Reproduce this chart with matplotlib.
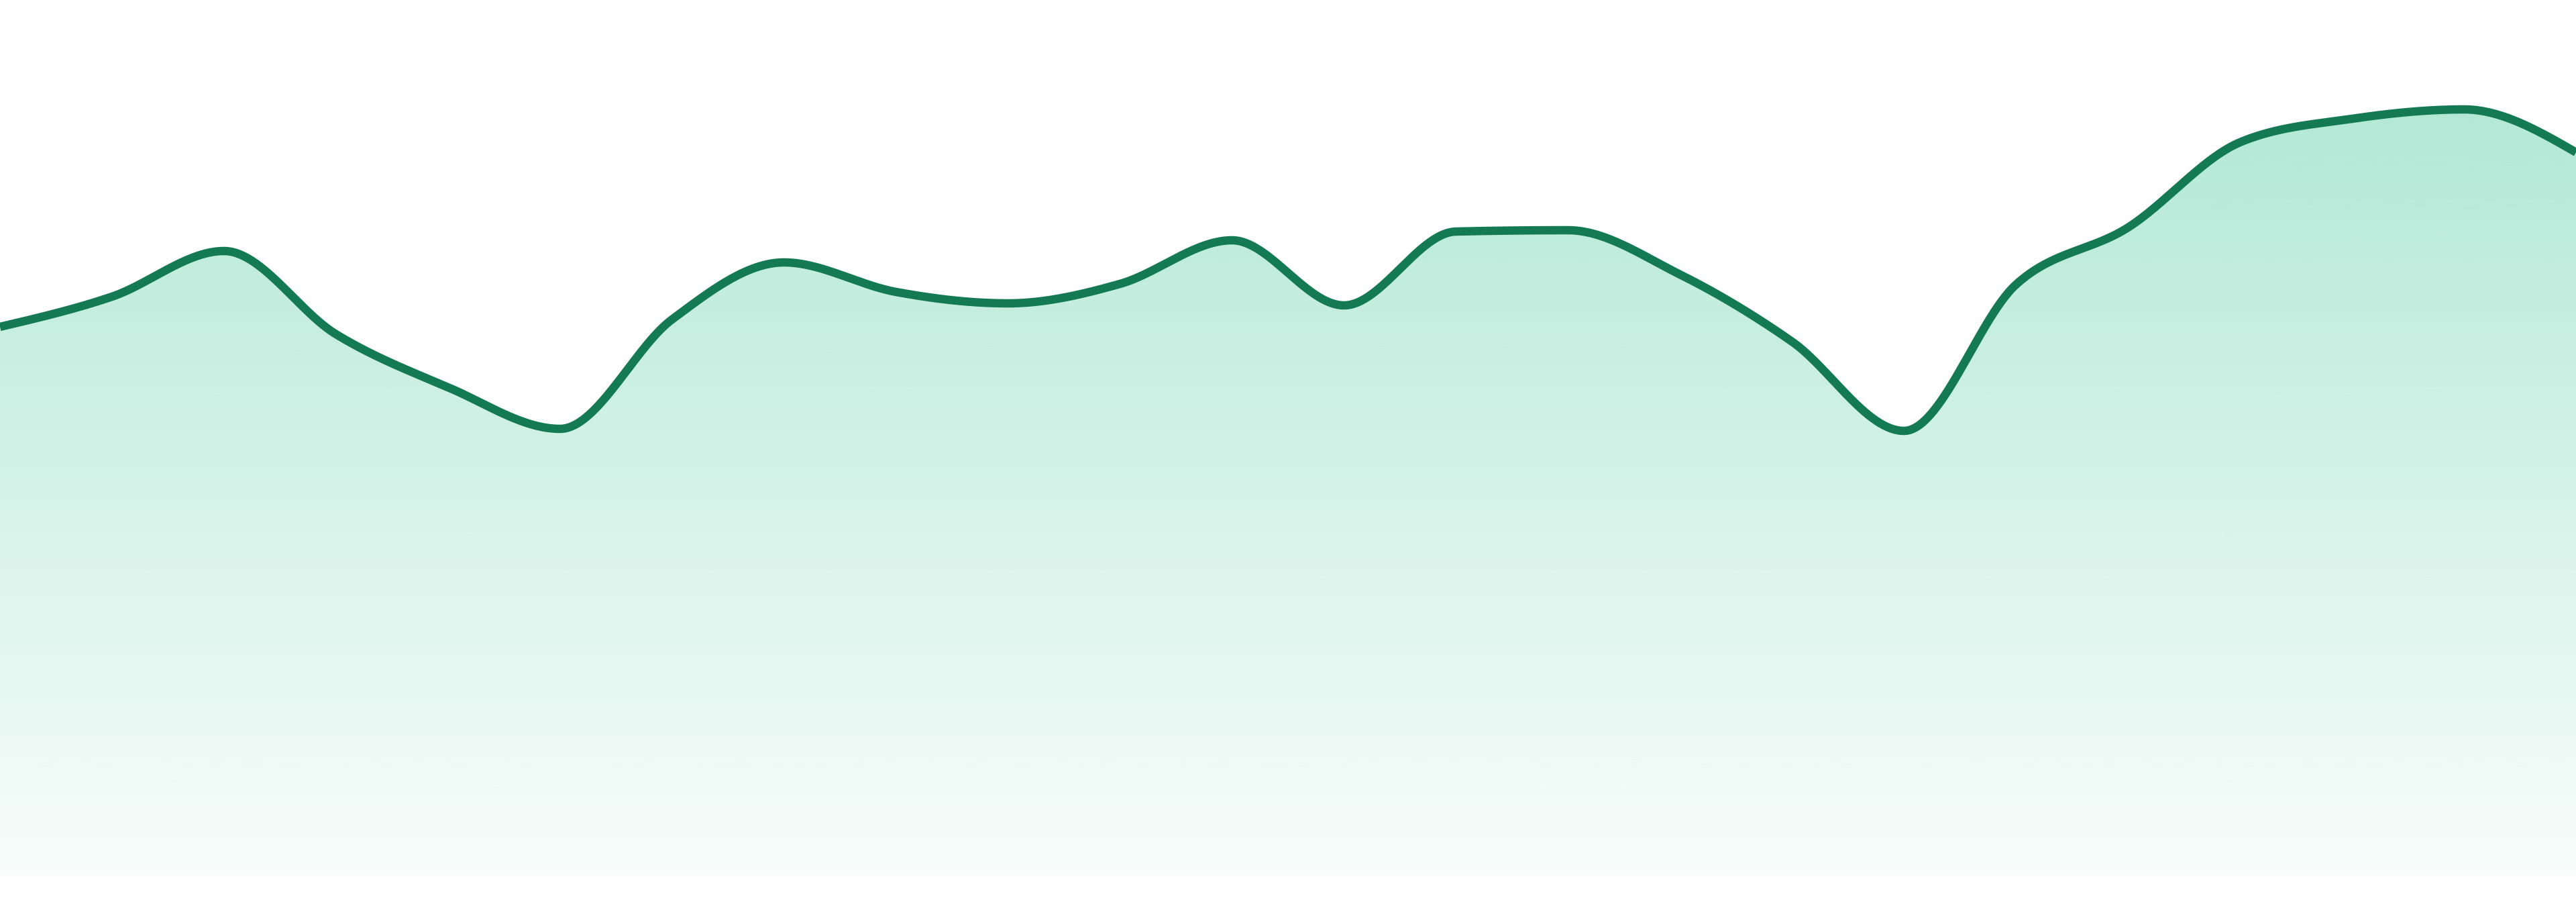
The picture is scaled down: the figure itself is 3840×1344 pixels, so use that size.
import numpy as np
import matplotlib
matplotlib.use("Agg")
import matplotlib.pyplot as plt
from matplotlib.path import Path
from matplotlib.patches import PathPatch

# heights above the baseline (arbitrary units)
values = [818, 863, 931, 807, 728, 666, 829, 914, 870, 853, 882, 947,
          850, 960, 962, 896, 796, 663, 881, 966, 1093, 1128, 1142, 1078]
steps = np.arange(len(values))

line_color = "#147a53"
fill_rgb = (16 / 255, 185 / 255, 129 / 255)


def monotone_x(xs, ys, n=60):
    # same slopes as d3.curveMonotoneX, evaluated as cubic hermite
    xs = np.asarray(xs, float)
    ys = np.asarray(ys, float)
    k = len(xs)
    m = np.zeros(k)
    for i in range(1, k - 1):
        h0 = xs[i] - xs[i - 1]
        h1 = xs[i + 1] - xs[i]
        s0 = (ys[i] - ys[i - 1]) / h0
        s1 = (ys[i + 1] - ys[i]) / h1
        p = (s0 * h1 + s1 * h0) / (h0 + h1)
        sg = (-1 if s0 < 0 else 1) + (-1 if s1 < 0 else 1)
        m[i] = sg * min(abs(s0), abs(s1), 0.5 * abs(p))
    h = xs[1] - xs[0]
    m[0] = (3 * (ys[1] - ys[0]) / h - m[1]) / 2
    h = xs[-1] - xs[-2]
    m[-1] = (3 * (ys[-1] - ys[-2]) / h - m[-2]) / 2
    outx = []
    outy = []
    for i in range(k - 1):
        h = xs[i + 1] - xs[i]
        t = np.linspace(0, 1, n, endpoint=(i == k - 2))
        h00 = 2 * t**3 - 3 * t**2 + 1
        h10 = t**3 - 2 * t**2 + t
        h01 = -2 * t**3 + 3 * t**2
        h11 = t**3 - t**2
        outx.append(xs[i] + t * h)
        outy.append(h00 * ys[i] + h10 * h * m[i] + h01 * ys[i + 1] + h11 * h * m[i + 1])
    return np.concatenate(outx), np.concatenate(outy)


cx, cy = monotone_x(steps, values)

fig = plt.figure(figsize=(38.4, 13.44), dpi=100)
ax = fig.add_axes([0, 0, 1, 1])
ax.axis("off")

# gradient fill clipped to the area under the curve
px = np.r_[cx, cx[-1], cx[0], cx[0]]
py = np.r_[cy, 0, 0, cy[0]]
area = PathPatch(Path(np.column_stack([px, py])), facecolor="none", edgecolor="none")
ax.add_patch(area)

top = max(values)
grad = np.zeros((256, 1, 4))
grad[:, 0, 0] = fill_rgb[0]
grad[:, 0, 1] = fill_rgb[1]
grad[:, 0, 2] = fill_rgb[2]
grad[:, 0, 3] = np.linspace(0.03, 0.32, 256)
im = ax.imshow(grad, extent=[steps[0], steps[-1], 0, top], origin="lower",
               aspect="auto", interpolation="bilinear", zorder=1)
im.set_clip_path(area)

ax.plot(cx, cy, color=line_color, lw=9, solid_capstyle="butt", zorder=3)

ax.set_xlim(steps[0], steps[-1])
ax.set_ylim(-39, 1305)

fig.savefig("out.png", dpi=100)
